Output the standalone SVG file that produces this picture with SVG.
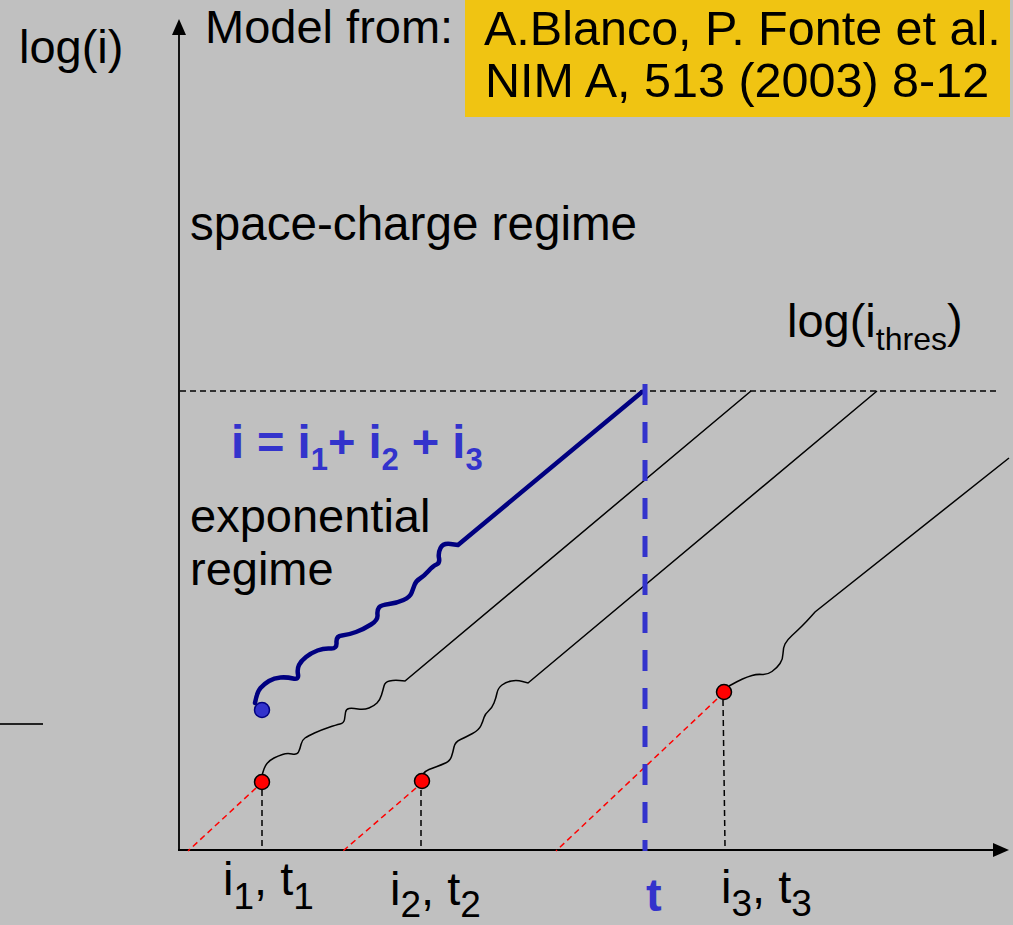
<svg xmlns="http://www.w3.org/2000/svg" width="1013" height="925" viewBox="0 0 1013 925">
<style>
text{font-family:"Liberation Sans",Arial,sans-serif;font-size:47px;fill:#000}
.ref{font-size:48.5px}
.big{font-size:47.6px}
.blue{fill:#3333CC;font-weight:bold}
.thin{fill:none;stroke:#000;stroke-width:1.5}
.vdash{fill:none;stroke:#000;stroke-width:1.5;stroke-dasharray:6 4}
.rdash{fill:none;stroke:#FF0000;stroke-width:1.5;stroke-dasharray:6 4}
.rdot{fill:#FF0000;stroke:#000;stroke-width:1.5}
</style>
<rect x="0" y="0" width="1013" height="925" fill="#C0C0C0"/>
<rect x="465" y="0" width="545" height="117" fill="#F0C412"/>
<g id="axes">
<line x1="0" y1="724" x2="43" y2="724" stroke="#222" stroke-width="2"/>
<line x1="179" y1="851" x2="179" y2="32" stroke="#000" stroke-width="1.8"/>
<polygon points="179,19 172,35 186,35" fill="#000"/>
<line x1="178" y1="850" x2="996" y2="850" stroke="#000" stroke-width="2"/>
<polygon points="1009,850 993,843 993,857" fill="#000"/>
<line x1="180" y1="391" x2="997" y2="391" stroke="#000" stroke-width="1.5" stroke-dasharray="6 4"/>
</g>
<g id="connectors">
<path class="rdash" d="M256,788 L188,851"/>
<path class="rdash" d="M416,788 L343,851"/>
<path class="rdash" d="M717,699 L556,851"/>
<path class="vdash" d="M262,790 L262,848"/>
<path class="vdash" d="M421,790 L421,848"/>
<path class="vdash" d="M723,700 L725,846"/>
<path class="thin" d="M262,776 Q264,767 267,763.5 Q270,760 274,758 Q278,756 282.5,754.5 Q287,753 292,754 Q297,755 298.5,752 Q300,749 301,744.5 Q302,740 305,738 Q308,736 314.5,733 Q321,730 328.5,727.5 Q336,725 340,724 Q344,723 344.5,719.5 Q345,716 345.5,712.5 Q346,709 349,708.5 Q352,708 358,709 Q364,710 369,708 Q374,706 377,703 Q380,700 381.5,695 Q383,690 384,686 Q385,682 389.5,681 Q394,680 399.5,680.5 L405,681 L751,391"/>
<path class="thin" d="M422,775 Q425,771 429,769.5 Q433,768 437,766.5 Q441,765 445.5,763 Q450,761 451.5,756.5 Q453,752 454,747 Q455,742 460.5,739.5 Q466,737 472.5,733.5 Q479,730 481,725.5 Q483,721 484,717.5 Q485,714 488.5,711 Q492,708 494,703 Q496,698 497,693 Q498,688 502,685 Q506,682 511.5,681 Q517,680 522.5,681.5 L528,683 L877,391"/>
<path class="thin" d="M729,686 Q738,681 742.5,679 Q747,677 752,675.5 Q757,674 762,674.5 Q767,675 772,671.5 Q777,668 780,663.5 Q783,659 783,653.5 Q783,648 785,644 Q787,640 792,635.5 Q797,631 802,626 Q807,621 811,616.5 L815,612 L1009,458"/>
<path fill="none" stroke="#000080" stroke-width="4.5" stroke-linejoin="round" stroke-linecap="round" d="M255,703 Q257,692 260.5,688 Q264,684 269,681 Q274,678 280.5,677.5 Q287,677 293,678.5 Q299,680 298,674.5 Q297,669 299,665 Q301,661 306,657 Q311,653 317.5,650.5 Q324,648 330.5,648.5 Q337,649 336.5,642.5 Q336,636 342,635.5 Q348,635 356,632 Q364,629 371,624.5 Q378,620 377.5,615 Q377,610 379,607.5 Q381,605 389,604 Q397,603 403.5,600 Q410,597 411.5,593 Q413,589 414.5,585 Q416,581 420,578.5 Q424,576 428.5,571 Q433,566 436.5,564.5 Q440,563 439,558 Q438,553 440.5,548 Q443,543 450.5,544 L458,545 L642,392"/>
<line x1="645" y1="384" x2="645" y2="851" stroke="#3333CC" stroke-width="5" stroke-dasharray="21 17"/>
</g>
<g id="dots">
<circle cx="262" cy="710" r="7.5" fill="#3333CC" stroke="#000080" stroke-width="1.5"/>
<circle class="rdot" cx="262" cy="782" r="7.5"/>
<circle class="rdot" cx="422" cy="781" r="7.5"/>
<circle class="rdot" cx="724" cy="692" r="7.5"/>
</g>
<g id="labels">
<text x="19" y="63">log(i)</text>
<text x="205" y="43">Model from:</text>
<text class="ref" x="484" y="45">A.Blanco, P. Fonte et al.</text>
<text class="ref" x="485" y="97">NIM A, 513 (2003) 8-12</text>
<text class="big" x="190" y="240">space-charge regime</text>
<text x="787" y="337">log(i<tspan font-size="32" dy="13">thres</tspan><tspan dy="-13">)</tspan></text>
<text class="blue" x="231" y="458">i = i<tspan font-size="31" dy="12">1</tspan><tspan dy="-12">+ i</tspan><tspan font-size="31" dy="12">2</tspan><tspan dy="-12"> + i</tspan><tspan font-size="31" dy="12">3</tspan></text>
<text x="190" y="532">exponential</text>
<text x="190" y="585">regime</text>
<text x="223" y="895">i<tspan font-size="37" dy="14">1</tspan><tspan dy="-14">, t</tspan><tspan font-size="37" dy="14">1</tspan></text>
<text x="390" y="905">i<tspan font-size="37" dy="12">2</tspan><tspan dy="-12">, t</tspan><tspan font-size="37" dy="12">2</tspan></text>
<text class="blue" x="646" y="911">t</text>
<text x="721" y="903">i<tspan font-size="37" dy="13">3</tspan><tspan dy="-13">, t</tspan><tspan font-size="37" dy="13">3</tspan></text>
</g>
</svg>
